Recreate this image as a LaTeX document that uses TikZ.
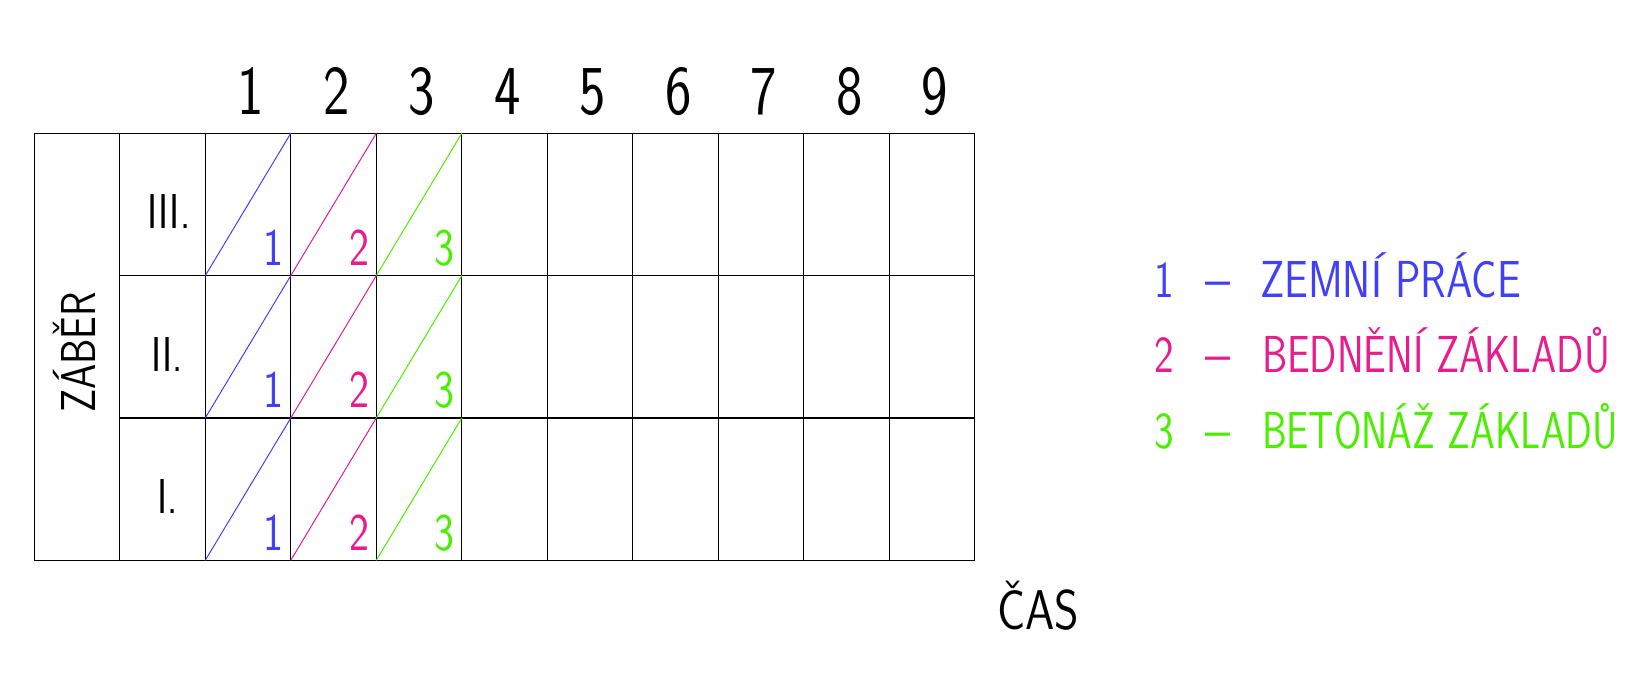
\documentclass[tikz,border=0pt]{standalone}
\usepackage{graphicx}
\newcommand{\fitw}[2]{\resizebox{#1}{\height}{#2}}
\newcommand{\narrowtxt}[1]{\scalebox{0.8}[1]{#1}}
\definecolor{cadblue}{RGB}{64,64,250}
\definecolor{cadpink}{RGB}{232,28,140}
\definecolor{cadgreen}{RGB}{76,238,0}
\begin{document}
\begin{tikzpicture}[x=1pt,y=-1pt,
  gridline/.style={line width=1.3pt,black},
  diag/.style={line width=1pt},
  lbl/.style={inner sep=0pt,outer sep=0pt,font=\sffamily},
  hdr/.style={lbl,anchor=base,font=\sffamily\fontsize{70}{70}\selectfont},
  cell/.style={lbl,anchor=base,font=\sffamily\fontsize{53}{53}\selectfont},
  big/.style={lbl,font=\sffamily\fontsize{49}{49}\selectfont},
  leg/.style={lbl,font=\sffamily\fontsize{52}{52}\selectfont},
]
\useasboundingbox (0,0) rectangle (1650,700);
% grid coordinates
\foreach \i in {0,...,11}{
  \foreach \j in {0,...,3}{
    \coordinate (g-\i-\j) at ({34.3+85.5*\i},{133.3+142.33*\j});
  }
}
% table
\draw[gridline] (g-0-0) rectangle (g-11-3);
\foreach \i in {1,...,10}{
  \draw[gridline] (g-\i-0) -- (g-\i-3);
}
\foreach \j in {1,2}{
  \draw[gridline] (g-1-\j) -- (g-11-\j);
}
% diagonals
\foreach \j [evaluate=\j as \jn using int(\j+1)] in {0,1,2}{
  \draw[diag,cadblue]  (g-2-\jn) -- (g-3-\j);
  \draw[diag,cadpink]  (g-3-\jn) -- (g-4-\j);
  \draw[diag,cadgreen] (g-4-\jn) -- (g-5-\j);
}
% header numbers
\foreach \k in {1,...,9}{
  \node[hdr] (h\k) at ({34.3+85.5*(\k+1)+45.5},115) {\narrowtxt{\k}};
}
% cell numbers
\foreach \j in {1,2,3}{
  \node[cell,cadblue]  (c1-\j) at ({34.3+85.5*3-17},{133.3+142.33*\j-10}) {\narrowtxt{1}};
  \node[cell,cadpink]  (c2-\j) at ({34.3+85.5*4-17},{133.3+142.33*\j-10}) {\narrowtxt{2}};
  \node[cell,cadgreen] (c3-\j) at ({34.3+85.5*5-17},{133.3+142.33*\j-10}) {\narrowtxt{3}};
}
% row labels
\node[big,anchor=base] (r3) at (169,228.7) {\scalebox{0.8}[1]{III.}};
\node[big,anchor=base] (r2) at (167,371.3) {\scalebox{0.8}[1]{II.}};
\node[big,anchor=base] (r1) at (168,513.3) {\scalebox{0.8}[1]{I.}};
% vertical label
\node[big,anchor=base,rotate=90] (zaber) at (95,352.4) {\fitw{121pt}{ZÁBĚR}};
% time label
\node[lbl,anchor=base west,font=\sffamily\fontsize{56}{56}\selectfont] (cas) at (997,629.3) {\fitw{82pt}{ČAS}};
% legend
\node[leg,anchor=base,cadblue]  (l1n) at (1164.5,297.7) {\narrowtxt{1}};
\node[leg,anchor=base,cadblue]  (l1d) at (1217.5,297.7) {\fitw{25pt}{–}};
\node[leg,anchor=base west,cadblue]  (l1t) at (1260,297.7) {\fitw{261pt}{ZEMNÍ PRÁCE}};
\node[leg,anchor=base,cadpink]  (l2n) at (1164.5,372.8) {\narrowtxt{2}};
\node[leg,anchor=base,cadpink]  (l2d) at (1217.5,372.8) {\fitw{25pt}{–}};
\node[leg,anchor=base west,cadpink]  (l2t) at (1262,372.8) {\fitw{348pt}{BEDNĚNÍ ZÁKLADŮ}};
\node[leg,anchor=base,cadgreen] (l3n) at (1164.5,448.2) {\narrowtxt{3}};
\node[leg,anchor=base,cadgreen] (l3d) at (1217.5,448.2) {\fitw{25pt}{–}};
\node[leg,anchor=base west,cadgreen] (l3t) at (1262,448.2) {\fitw{356pt}{BETONÁŽ ZÁKLADŮ}};
\end{tikzpicture}
\end{document}
